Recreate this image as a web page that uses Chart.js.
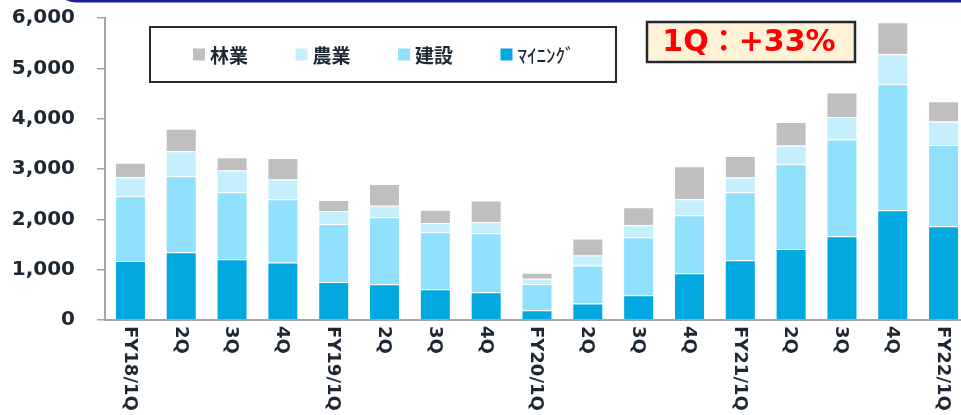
<!DOCTYPE html>
<html>
<head>
<meta charset="utf-8">
<script src="https://cdn.jsdelivr.net/npm/chart.js@4/dist/chart.umd.min.js"></script>
<style>
  html, body { margin: 0; padding: 0; background: #ffffff; overflow: hidden; }
  #wrap { position: relative; width: 969px; height: 415px; }
</style>
</head>
<body>
<div id="wrap"><canvas id="c" width="969" height="415"></canvas></div>
<script>
// Quarterly unit volumes by segment, stacked (bottom to top: mining, construction, agriculture, forestry)
const quarters = ['FY18/1Q', '2Q', '3Q', '4Q', 'FY19/1Q', '2Q', '3Q', '4Q',
                  'FY20/1Q', '2Q', '3Q', '4Q', 'FY21/1Q', '2Q', '3Q', '4Q', 'FY22/1Q'];
const mining       = [1170, 1345, 1205, 1140, 755, 710, 610, 550, 195, 330, 490, 930, 1185, 1410, 1665, 2180, 1865];
const construction = [1290, 1510, 1335, 1260, 1150, 1330, 1135, 1175, 520, 755, 1155, 1150, 1355, 1685, 1920, 2505, 1610];
const agriculture  = [375, 500, 430, 390, 260, 230, 180, 220, 105, 195, 235, 320, 290, 370, 450, 595, 470];
const forestry     = [290, 445, 265, 430, 220, 430, 265, 430, 120, 340, 360, 655, 430, 470, 485, 635, 400];
const seriesNames  = ['ﾏｲﾆﾝｸﾞ', '建設', '農業', '林業'];
const yMax = 6000;
const yStep = 1000;
const badgeText = '1Q：+33%';

const colors = ['#02a8e0', '#8fe1fe', '#c6effe', '#bfbfbf'];
const textColor = '#1e2832';
const axisColor = '#a6a6a6';

// Navy frame edge running along the top of the panel
const frameEdge = {
  id: 'frameEdge',
  beforeDraw(chart) {
    const ctx = chart.ctx;
    ctx.save();
    ctx.strokeStyle = '#1d1d9b';
    ctx.lineWidth = 2.5;
    ctx.beginPath();
    ctx.moveTo(60, -12);
    ctx.quadraticCurveTo(62, 1.2, 76, 1.2);
    ctx.lineTo(chart.width + 5, 1.2);
    ctx.stroke();
    ctx.restore();
  }
};

// Boxed legend sitting inside the plot, listing series top-of-stack first
const boxedLegend = {
  id: 'boxedLegend',
  afterDraw(chart) {
    const ctx = chart.ctx;
    ctx.save();
    ctx.fillStyle = '#ffffff';
    ctx.fillRect(150, 27, 466, 55);
    ctx.strokeStyle = '#222a30';
    ctx.lineWidth = 2;
    ctx.strokeRect(150, 27, 466, 55);
    const sets = chart.data.datasets.slice().reverse();
    const startX = 193, stepX = 102.5, midY = 54.5;
    sets.forEach((ds, i) => {
      const x = startX + i * stepX;
      ctx.fillStyle = ds.backgroundColor;
      ctx.fillRect(x, midY - 6, 12, 12);
      ctx.fillStyle = textColor;
      ctx.font = (i === 3 ? '500 ' : '700 ') + '19px "Noto Sans CJK JP"';
      ctx.textAlign = 'left';
      ctx.textBaseline = 'middle';
      ctx.fillText(ds.label, x + 17, midY + 1);
    });
    ctx.restore();
  }
};

// Growth call-out box
const badge = {
  id: 'badge',
  afterDraw(chart) {
    const ctx = chart.ctx;
    ctx.save();
    ctx.fillStyle = '#fff2d6';
    ctx.fillRect(647, 22, 208, 40);
    ctx.strokeStyle = '#222a30';
    ctx.lineWidth = 2.5;
    ctx.strokeRect(647, 22, 208, 40);
    ctx.fillStyle = '#ff0000';
    ctx.font = 'bold 30px "DejaVu Sans", "Noto Sans CJK JP"';
    ctx.textAlign = 'center';
    ctx.textBaseline = 'middle';
    ctx.fillText(badgeText, 749, 43);
    ctx.restore();
  }
};

// Category labels written top-to-bottom under each bar
const verticalLabels = {
  id: 'verticalLabels',
  afterDraw(chart) {
    const ctx = chart.ctx;
    const xs = chart.scales.x;
    ctx.save();
    ctx.fillStyle = textColor;
    ctx.font = 'bold 18px "DejaVu Sans"';
    ctx.textAlign = 'left';
    ctx.textBaseline = 'middle';
    chart.data.labels.forEach((lab, i) => {
      const x = xs.getPixelForTick(i) - 1;
      ctx.save();
      ctx.translate(x, 326);
      ctx.rotate(Math.PI / 2);
      ctx.fillText(lab, 0, 0);
      ctx.restore();
    });
    ctx.restore();
  }
};

const seriesData = [mining, construction, agriculture, forestry];

new Chart(document.getElementById('c'), {
  type: 'bar',
  data: {
    labels: quarters,
    datasets: seriesData.map((d, i) => ({
      label: seriesNames[i],
      data: d,
      backgroundColor: colors[i],
      borderColor: 'rgba(255,255,255,0.7)',
      borderWidth: 1,
      categoryPercentage: 1,
      barPercentage: 0.61
    }))
  },
  options: {
    responsive: false,
    devicePixelRatio: 1,
    animation: false,
    layout: { padding: { top: 18, right: 0, left: 0, bottom: 0 } },
    plugins: { legend: { display: false }, tooltip: { enabled: false } },
    scales: {
      x: {
        stacked: true,
        grid: { display: false },
        border: { display: true, color: axisColor, width: 2 },
        ticks: { display: false },
        afterFit(scale) { scale.height = 95; scale.paddingLeft = 0; scale.paddingRight = 0; }
      },
      y: {
        stacked: true,
        min: 0,
        max: yMax,
        grid: { display: true, drawOnChartArea: false, drawTicks: true, tickLength: 8, color: axisColor, lineWidth: 1.5 },
        border: { display: true, color: axisColor, width: 2 },
        ticks: {
          stepSize: yStep,
          padding: 22,
          color: textColor,
          font: { family: '"DejaVu Sans"', size: 20, weight: 'bold' },
          callback: v => v.toLocaleString('en-US')
        },
        afterFit(scale) { scale.width = 105; scale.paddingTop = 0; scale.paddingBottom = 0; }
      }
    }
  },
  plugins: [frameEdge, verticalLabels, boxedLegend, badge]
});
</script>
</body>
</html>
